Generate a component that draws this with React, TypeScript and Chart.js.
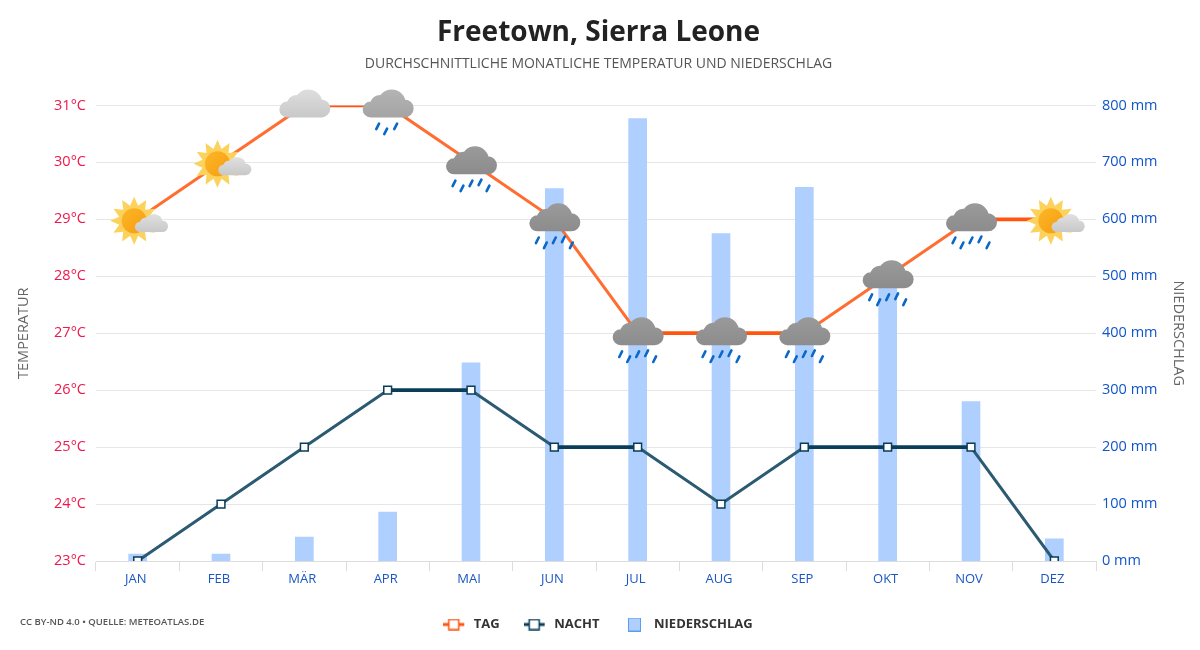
import React, { useEffect, useRef } from "react";
import { Chart, registerables } from "chart.js";

Chart.register(...registerables);

const months = ["JAN", "FEB", "MÄR", "APR", "MAI", "JUN", "JUL", "AUG", "SEP", "OKT", "NOV", "DEZ"];
const dayTemp = [29, 30, 31, 31, 30, 29, 27, 27, 27, 28, 29, 29];
const nightTemp = [23, 24, 25, 26, 26, 25, 25, 24, 25, 25, 25, 23];
const precipitation = [12, 12, 42, 86, 348, 654, 777, 575, 656, 484, 280, 39];
const icons = ["sun", "sun", "cloud", "drizzle", "rain", "rain", "rain", "rain", "rain", "rain", "rain", "sun"];

const FONT = '"Open Sans", "Noto Sans", sans-serif';
const DAY = "#ff5511";
const DAY_SLOPE = "#ff6d30";
const NIGHT = "#0a3d58";
const NIGHT_SLOPE = "#2b5a72";

function cloudPath(ctx: CanvasRenderingContext2D, cx: number, cy: number, s: number, top: string, bottom: string) {
  const g = ctx.createLinearGradient(0, cy - 16 * s, 0, cy + 12 * s);
  g.addColorStop(0, top);
  g.addColorStop(1, bottom);
  ctx.fillStyle = g;
  ctx.beginPath();
  const lumps: [number, number, number][] = [
    [-17, 4, 8],
    [-8, -1, 9.5],
    [4, -2, 14],
    [17, 3, 9],
  ];
  lumps.forEach(([x, y, r]) => {
    ctx.moveTo(cx + (x + r) * s, cy + y * s);
    ctx.arc(cx + x * s, cy + y * s, r * s, 0, Math.PI * 2);
  });
  ctx.rect(cx - 17 * s, cy + 0 * s, 34 * s, 12 * s);
  ctx.fill();
}

function drop(ctx: CanvasRenderingContext2D, x: number, y: number) {
  ctx.strokeStyle = "#0a68c8";
  ctx.lineWidth = 2.6;
  ctx.lineCap = "round";
  ctx.beginPath();
  ctx.moveTo(x + 1.4, y - 2.8);
  ctx.lineTo(x - 1.4, y + 2.8);
  ctx.stroke();
}

function sun(ctx: CanvasRenderingContext2D, cx: number, cy: number) {
  ctx.fillStyle = "#fdd25c";
  ctx.beginPath();
  const n = 12;
  for (let i = 0; i < n * 2; i++) {
    const a = (i * Math.PI) / n - Math.PI / 2;
    const r = i % 2 === 0 ? 24 : 15.5;
    ctx.lineTo(cx + r * Math.cos(a), cy + r * Math.sin(a));
  }
  ctx.closePath();
  ctx.fill();
  const g = ctx.createLinearGradient(cx - 12, cy - 12, cx + 12, cy + 12);
  g.addColorStop(0, "#fbb725");
  g.addColorStop(1, "#f79c12");
  ctx.fillStyle = g;
  ctx.beginPath();
  ctx.arc(cx, cy, 12.5, 0, Math.PI * 2);
  ctx.fill();
}

const weatherIcons = {
  id: "weatherIcons",
  afterDatasetsDraw(chart: any) {
    const { ctx } = chart;
    const meta = chart.getDatasetMeta(0);
    ctx.save();
    meta.data.forEach((pt: any, i: number) => {
      const x = pt.x;
      const y = pt.y;
      const kind = icons[i];
      if (kind === "sun") {
        sun(ctx, x - 3.5, y + 1.5);
        cloudPath(ctx, x + 13.5, y + 5, 0.65, "#e0e0e0", "#c8c8c8");
      } else if (kind === "cloud") {
        cloudPath(ctx, x, y, 1, "#dedede", "#c8c8c8");
      } else if (kind === "drizzle") {
        cloudPath(ctx, x, y, 1, "#b4b4b4", "#a4a4a4");
        [[-10, 21], [-2, 26], [8, 21]].forEach(([dx, dy]) => drop(ctx, x + dx, y + dy));
      } else {
        cloudPath(ctx, x, y, 1, "#9a9a9a", "#8c8c8c");
        [[-17, 21], [-9, 26], [0, 21], [9, 20], [17, 26]].forEach(([dx, dy]) => drop(ctx, x + dx, y + dy));
      }
    });
    ctx.restore();
  },
};

function legendMarker(color: string) {
  const c = document.createElement("canvas");
  c.width = 25;
  c.height = 12;
  const x = c.getContext("2d")!;
  x.fillStyle = color;
  x.fillRect(0, 4.5, 21, 3);
  x.fillStyle = "#fff";
  x.strokeStyle = color;
  x.lineWidth = 1.5;
  x.fillRect(5.5, 1, 10, 10);
  x.strokeRect(5.5, 1, 10, 10);
  return c;
}

function legendBox() {
  const c = document.createElement("canvas");
  c.width = 16;
  c.height = 14;
  const x = c.getContext("2d")!;
  x.fillStyle = "#afcfff";
  x.fillRect(0, 0, 13, 14);
  x.strokeStyle = "#5c9cf5";
  x.lineWidth = 1;
  x.strokeRect(0.5, 0.5, 12, 13);
  return c;
}

const slope = (flat: any, sloped: any) => (c: any) => (c.p0.parsed.y === c.p1.parsed.y ? flat : sloped);

export default function App() {
  const ref = useRef<HTMLCanvasElement>(null);

  useEffect(() => {
    const chart = new Chart(ref.current!, {
      type: "bar",
      data: {
        labels: months,
        datasets: [
          {
            type: "line",
            label: "TAG",
            data: dayTemp,
            yAxisID: "y",
            borderColor: DAY,
            backgroundColor: "#fff",
            borderWidth: 3,
            pointStyle: "rect",
            pointRadius: 5,
            pointBorderWidth: 1.5,
            tension: 0,
            order: 1,
            segment: { borderColor: slope(DAY, DAY_SLOPE), borderWidth: slope(3.7, 3) },
          },
          {
            type: "line",
            label: "NACHT",
            data: nightTemp,
            yAxisID: "y",
            borderColor: NIGHT,
            backgroundColor: "#fff",
            borderWidth: 3,
            pointStyle: "rect",
            pointRadius: 5.5,
            pointBorderWidth: 1.5,
            tension: 0,
            order: 2,
            segment: { borderColor: slope(NIGHT, NIGHT_SLOPE), borderWidth: slope(3.7, 3) },
          },
          {
            type: "bar",
            label: "NIEDERSCHLAG",
            data: precipitation,
            yAxisID: "y1",
            backgroundColor: "#afcfff",
            barThickness: 18,
            order: 3,
          },
        ],
      } as any,
      options: {
        responsive: false,
        animation: false,
        layout: { padding: { left: 7, right: 10, top: 6, bottom: 9 } },
        plugins: {
          title: {
            display: true,
            text: "Freetown, Sierra Leone",
            color: "#222222",
            font: { family: FONT, size: 28, weight: "bold" },
            padding: { top: 10, bottom: 4 },
          },
          subtitle: {
            display: true,
            text: "DURCHSCHNITTLICHE MONATLICHE TEMPERATUR UND NIEDERSCHLAG",
            color: "#555555",
            font: { family: FONT, size: 14, weight: "normal" },
            padding: { top: 2, bottom: 33 },
          },
          legend: {
            position: "bottom",
            labels: {
              color: "#333333",
              font: { family: FONT, size: 13, weight: "bold" },
              usePointStyle: true,
              pointStyleWidth: 23,
              padding: 25,
              generateLabels: () => [
                { text: "TAG", pointStyle: legendMarker(DAY), datasetIndex: 0, fontColor: "#333333" },
                { text: "NACHT", pointStyle: legendMarker(NIGHT), datasetIndex: 1, fontColor: "#333333" },
                { text: "NIEDERSCHLAG", pointStyle: legendBox(), datasetIndex: 2, fontColor: "#333333" },
              ] as any,
            },
          },
          tooltip: { enabled: false },
        },
        scales: {
          x: {
            grid: { display: true, drawOnChartArea: false, color: "#dddddd", tickLength: 10 },
            border: { color: "#dddddd" },
            ticks: { color: "#1a56c4", font: { family: FONT, size: 13 }, padding: 0, maxRotation: 0, labelOffset: -2 },
            afterFit: (s: any) => { s.height = 32; },
          },
          y: {
            position: "left",
            min: 23,
            max: 31,
            grid: { color: "#e6e6e6", drawTicks: false },
            border: { display: false },
            ticks: {
              stepSize: 1,
              color: "#f0174a",
              font: { family: FONT, size: 14.5 },
              padding: 10,
              callback: (v: any) => `${v}°C`,
            },
            title: {
              display: true,
              text: "TEMPERATUR",
              color: "#666666",
              font: { family: FONT, size: 14.5 },
              padding: { top: 8, bottom: 0 },
            },
            afterFit: (s: any) => { s.width = 89; },
          },
          y1: {
            position: "right",
            min: 0,
            max: 800,
            grid: { display: false, drawTicks: false },
            border: { display: false },
            ticks: {
              stepSize: 100,
              color: "#1155cc",
              font: { family: FONT, size: 14.5 },
              padding: 6,
              callback: (v: any) => `${v} mm`,
            },
            title: {
              display: true,
              text: "NIEDERSCHLAG",
              color: "#666666",
              font: { family: FONT, size: 14.5 },
              padding: { top: 3, bottom: 0 },
            },
            afterFit: (s: any) => { s.width = 94; },
          },
        },
      } as any,
      plugins: [weatherIcons],
    });
    return () => chart.destroy();
  }, []);

  return (
    <div style={{ position: "absolute", left: 0, top: 0, width: 1200, height: 650, background: "#fff" }}>
      <canvas ref={ref} width={1200} height={650} style={{ display: "block" }} />
      <div
        style={{
          position: "absolute",
          left: 20,
          top: 615,
          fontFamily: FONT,
          fontSize: 9.5,
          fontWeight: 600,
          color: "#555555",
          lineHeight: "14px",
        }}
      >
        CC BY-ND 4.0 • QUELLE: METEOATLAS.DE
      </div>
    </div>
  );
}
